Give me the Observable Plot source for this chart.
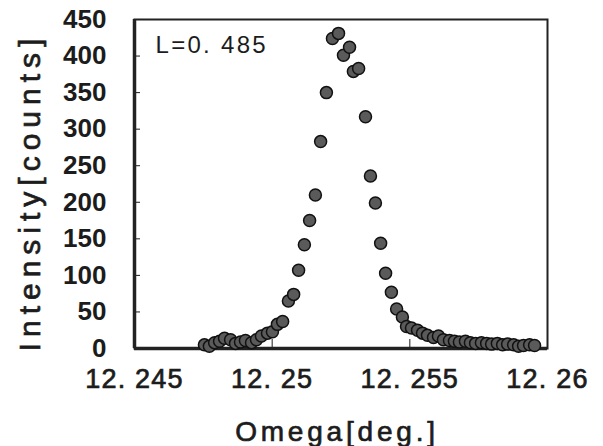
<!DOCTYPE html>
<html><head><meta charset="utf-8">
<script src="https://cdn.jsdelivr.net/npm/d3@7"></script>
<script src="https://cdn.jsdelivr.net/npm/@observablehq/plot@0.6"></script>
<style>html,body{margin:0;padding:0;background:#fff;} svg{display:block}</style>
</head><body><div id="chart"></div>
<script>
const omega = [12.24754, 12.24772, 12.24791, 12.24809, 12.24827, 12.24849, 12.24867, 12.24885, 12.24903, 12.24925,
  12.24943, 12.24961, 12.24983, 12.25001, 12.25019, 12.25038, 12.25059, 12.25078, 12.25096, 12.25117,
  12.25136, 12.25157, 12.25176, 12.25197, 12.25219, 12.25241, 12.25259, 12.25281, 12.25295, 12.25314,
  12.25339, 12.25357, 12.25375, 12.25394, 12.25412, 12.25433, 12.25452, 12.25473, 12.25488, 12.25506,
  12.25528, 12.25546, 12.25564, 12.25586, 12.25604, 12.25622, 12.25644, 12.25662, 12.2568, 12.25702,
  12.2572, 12.25739, 12.2576, 12.25779, 12.25797, 12.25818, 12.25837, 12.25855, 12.25877, 12.25895,
  12.25913, 12.25935, 12.25953];
const intensity = [5, 3, 8, 10, 14, 12, 7, 9, 11, 8,
  12, 17, 21, 23, 33, 37, 65, 74, 107, 142,
  175, 210, 283, 350, 424, 431, 401, 412, 379, 383,
  317, 236, 199, 144, 103, 77, 54, 43, 30, 28,
  25, 21, 18, 15, 17, 12, 11, 10, 9, 10,
  8, 7, 8, 7, 6, 7, 5, 6, 5, 3,
  4, 5, 4];
const xDomain = [12.245, 12.26];
const yDomain = [0, 450];
const xTicks = [12.245, 12.25, 12.255, 12.26];
const xTickLabels = ["12. 245", "12. 25", "12. 255", "12. 26"];
const yTicks = [0, 50, 100, 150, 200, 250, 300, 350, 400, 450];
const annotation = "L=0. 485";
const xTitle = "Omega[deg.]";
const yTitle = "Intensity[counts]";

const data = omega.map((x, i) => ({x, y: intensity[i]}));
const ink = "#1c1c1c";

const plot = Plot.plot({
  width: 603, height: 446,
  marginLeft: 134, marginRight: 56, marginTop: 19, marginBottom: 98,
  style: {fontFamily: "'Liberation Sans', Arial, sans-serif", color: ink, background: "#fff"},
  x: {domain: xDomain},
  y: {domain: yDomain},
  marks: [
    Plot.axisX(xTicks, {tickSize: 0, tickPadding: 20, fontSize: 27, label: null,
      tickFormat: d => xTickLabels[xTicks.indexOf(d)]}),
    Plot.axisX(xTicks, {tickSize: -9, tickFormat: () => "", label: null, stroke: ink}),
    Plot.axisY(yTicks, {tickSize: 0, tickPadding: 28, fontSize: 26, fontWeight: "bold", label: null}),
    Plot.axisY(yTicks, {tickSize: -6, tickFormat: () => "", label: null, stroke: ink}),
    Plot.frame({stroke: "#222", strokeWidth: 2}),
    Plot.ruleX([xDomain[0]], {stroke: "#222", strokeWidth: 3.5}),
    Plot.ruleY([yDomain[0]], {stroke: "#222", strokeWidth: 3.5}),
    Plot.dot(data, {x: "x", y: "y", r: 6, fill: "#5a5a5a", stroke: "#111", strokeWidth: 1.5}),
    Plot.text([annotation], {frameAnchor: "top-left", dx: 21, dy: 26, textAnchor: "start", lineAnchor: "middle", fontSize: 24, fill: ink}),
    Plot.text([xTitle], {frameAnchor: "bottom", dx: -4, dy: 84, textAnchor: "middle", lineAnchor: "middle", fontSize: 28, fill: ink}),
    Plot.text([yTitle], {frameAnchor: "left", rotate: -90, dx: -104, dy: 8, textAnchor: "middle", lineAnchor: "middle", fontSize: 30, fill: ink})
  ]
});

document.getElementById("chart").appendChild(plot);

d3.select(plot).selectAll("text").each(function () {
  const t = this.textContent;
  const s = d3.select(this);
  const embolden = () => s.style("stroke", ink).style("stroke-width", "0.7px").style("paint-order", "stroke");
  if (t === yTitle) { s.style("letter-spacing", "6px"); embolden(); }
  else if (t === xTitle) { s.style("letter-spacing", "3.8px"); embolden(); }
  else if (t === annotation) s.style("letter-spacing", "2.3px");
  else if (xTickLabels.includes(t)) { s.style("letter-spacing", "1.2px"); embolden(); }
});
</script>
</body></html>
